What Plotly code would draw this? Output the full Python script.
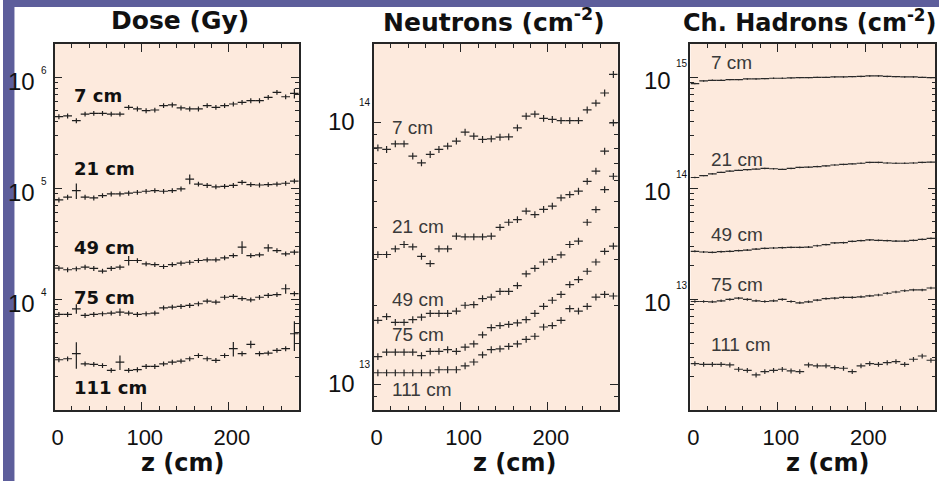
import math
import plotly.graph_objects as go

# ---------------- data ----------------
z_cm = [5, 15, 25, 35, 45, 55, 65, 75, 85, 95, 105, 115, 125, 135,
        145, 155, 165, 175, 185, 195, 205, 215, 225, 235, 245, 255, 265, 275]
bin_half = 5

radii = ["7 cm", "21 cm", "49 cm", "75 cm", "111 cm"]

dose_7 = [4.42e5, 4.49e5, 4.07e5, 4.67e5, 4.74e5, 4.74e5, 4.67e5, 4.67e5, 5.37e5, 5.19e5,
          5.01e5, 5.08e5, 5.56e5, 5.64e5, 5.30e5, 5.19e5, 5.19e5, 5.56e5, 5.37e5, 5.56e5,
          5.75e5, 5.96e5, 6.16e5, 6.16e5, 6.60e5, 7.33e5, 6.69e5, 7.17e5]
dose_21 = [7.85e4, 8.30e4, 9.53e4, 8.30e4, 8.18e4, 8.59e4, 8.89e4, 8.89e4, 9.02e4, 9.20e4,
           9.40e4, 9.53e4, 9.40e4, 9.53e4, 9.86e4, 1.21e5, 1.09e5, 1.06e5, 1.03e5, 1.04e5,
           1.06e5, 1.13e5, 1.08e5, 1.07e5, 1.08e5, 1.09e5, 1.11e5, 1.16e5]
dose_49 = [1.90e4, 1.84e4, 1.88e4, 1.94e4, 1.89e4, 1.79e4, 1.89e4, 1.94e4, 2.23e4, 2.23e4,
           2.08e4, 2.05e4, 1.97e4, 2.05e4, 2.11e4, 2.15e4, 2.23e4, 2.26e4, 2.26e4, 2.36e4,
           2.47e4, 2.94e4, 2.47e4, 2.51e4, 2.90e4, 2.74e4, 2.56e4, 2.65e4]
dose_75 = [7.28e3, 7.28e3, 8.18e3, 7.13e3, 7.28e3, 7.38e3, 7.48e3, 7.64e3, 7.48e3, 7.28e3,
           7.38e3, 7.48e3, 8.35e3, 8.47e3, 8.59e3, 8.77e3, 9.08e3, 9.59e3, 9.40e3, 1.04e4,
           1.06e4, 1.01e4, 9.86e3, 1.04e4, 1.08e4, 1.10e4, 1.24e4, 1.12e4]
dose_111 = [2.84e3, 2.90e3, 3.22e3, 2.61e3, 2.58e3, 2.52e3, 2.28e3, 2.70e3, 2.28e3, 2.31e3,
            2.47e3, 2.47e3, 2.61e3, 2.70e3, 2.76e3, 2.90e3, 3.10e3, 2.90e3, 2.80e3, 3.10e3,
            3.57e3, 3.22e3, 3.91e3, 3.22e3, 3.26e3, 3.45e3, 3.57e3, 4.87e3]

# relative errors (%) of the dose points
dose_err_7 = [5] * 27 + [10]
dose_err_21 = [5, 5, 16] + [5] * 12 + [10] + [5] * 12
dose_err_49 = [5] * 8 + [10] + [5] * 12 + [13, 5, 5, 8, 5, 5, 5]
dose_err_75 = [5, 5, 10, 5, 5, 5, 5, 8] + [5] * 18 + [10, 5]
dose_err_111 = [5, 5, 27, 5, 5, 5, 5, 15] + [5] * 12 + [15, 5, 8, 5, 5, 5, 5, 30]

neut_7 = [8.02e13, 7.91e13, 8.31e13, 8.31e13, 7.46e13, 7.03e13, 7.57e13, 7.91e13, 8.15e13, 8.51e13,
          9.21e13, 8.89e13, 8.64e13, 8.69e13, 8.81e13, 8.84e13, 9.57e13, 1.06e14, 1.08e14, 1.04e14,
          1.03e14, 1.02e14, 1.02e14, 1.02e14, 1.12e14, 1.19e14, 1.30e14, 1.53e14]
neut_21 = [3.14e13, 3.14e13, 3.30e13, 3.43e13, 3.36e13, 3.09e13, 2.90e13, 3.30e13, 3.30e13, 3.69e13,
           3.67e13, 3.67e13, 3.67e13, 3.69e13, 3.99e13, 4.17e13, 4.27e13, 4.60e13, 4.46e13, 4.67e13,
           4.81e13, 5.17e13, 5.32e13, 5.48e13, 5.98e13, 6.54e13, 7.79e13, 1.00e14]
neut_49 = [1.76e13, 1.82e13, 1.73e13, 1.73e13, 1.77e13, 1.81e13, 1.87e13, 1.87e13, 1.87e13, 1.91e13,
           2.01e13, 2.02e13, 2.13e13, 2.16e13, 2.27e13, 2.27e13, 2.39e13, 2.65e13, 2.78e13, 2.94e13,
           3.01e13, 3.13e13, 3.43e13, 3.53e13, 4.17e13, 4.66e13, 5.56e13, 6.25e13]
neut_75 = [1.28e13, 1.33e13, 1.33e13, 1.33e13, 1.33e13, 1.29e13, 1.34e13, 1.34e13, 1.36e13, 1.34e13,
           1.39e13, 1.43e13, 1.55e13, 1.65e13, 1.68e13, 1.70e13, 1.72e13, 1.77e13, 1.87e13, 1.99e13,
           2.10e13, 2.21e13, 2.41e13, 2.52e13, 2.71e13, 2.94e13, 3.23e13, 3.38e13]
neut_111 = [1.11e13, 1.11e13, 1.11e13, 1.11e13, 1.11e13, 1.11e13, 1.11e13, 1.14e13, 1.14e13, 1.14e13,
            1.18e13, 1.22e13, 1.30e13, 1.36e13, 1.37e13, 1.40e13, 1.43e13, 1.49e13, 1.53e13, 1.66e13,
            1.68e13, 1.76e13, 1.95e13, 1.91e13, 1.99e13, 2.16e13, 2.21e13, 2.18e13]

had_7 = [8.79e14, 9.29e14, 9.41e14, 9.41e14, 9.54e14, 9.54e14, 9.68e14, 9.68e14, 9.75e14, 9.82e14,
         9.82e14, 9.88e14, 9.95e14, 9.95e14, 1.00e15, 1.00e15, 1.01e15, 1.01e15, 1.016e15, 1.02e15,
         1.03e15, 1.03e15, 1.02e15, 1.016e15, 1.01e15, 1.01e15, 1.00e15, 9.95e14]
had_21 = [1.25e14, 1.30e14, 1.35e14, 1.39e14, 1.43e14, 1.45e14, 1.47e14, 1.49e14, 1.51e14, 1.50e14,
          1.48e14, 1.51e14, 1.54e14, 1.55e14, 1.57e14, 1.59e14, 1.62e14, 1.64e14, 1.66e14, 1.68e14,
          1.71e14, 1.71e14, 1.69e14, 1.68e14, 1.68e14, 1.69e14, 1.71e14, 1.72e14]
had_49 = [2.70e13, 2.66e13, 2.64e13, 2.68e13, 2.70e13, 2.74e13, 2.77e13, 2.83e13, 2.87e13, 2.89e13,
          2.91e13, 2.93e13, 2.93e13, 2.95e13, 3.03e13, 3.10e13, 3.21e13, 3.23e13, 3.32e13, 3.37e13,
          3.42e13, 3.39e13, 3.37e13, 3.34e13, 3.34e13, 3.39e13, 3.46e13, 3.53e13]
had_75 = [9.52e12, 9.52e12, 9.46e12, 9.66e12, 9.94e12, 1.02e13, 9.94e12, 9.66e12, 9.52e12, 9.66e12,
          9.94e12, 9.52e12, 9.27e12, 9.46e12, 9.80e12, 1.01e13, 1.02e13, 1.035e13, 1.035e13, 1.05e13,
          1.07e13, 1.09e13, 1.13e13, 1.16e13, 1.19e13, 1.21e13, 1.21e13, 1.26e13]
had_111 = [2.62e12, 2.58e12, 2.58e12, 2.58e12, 2.55e12, 2.33e12, 2.28e12, 2.07e12, 2.22e12, 2.28e12,
           2.33e12, 2.25e12, 2.22e12, 2.55e12, 2.50e12, 2.50e12, 2.41e12, 2.38e12, 2.22e12, 2.50e12,
           2.62e12, 2.58e12, 2.67e12, 2.73e12, 2.58e12, 2.87e12, 3.07e12, 2.81e12]

panel_titles = ["Dose (Gy)", "Neutrons (cm<sup>-2</sup>)", "Ch. Hadrons (cm<sup>-2</sup>)"]
x_title = "z (cm)"
x_ticks = [0, 100, 200]
y_decades = [[6, 5, 4], [14, 13], [15, 14, 13]]

# ---------------- layout geometry ----------------
W, H = 939, 481
PX = [(51.7, 296.7), (371.7, 616.7), (689.7, 935.3)]
TOP, BOT = 44, 410
y_ranges = [[3.0, math.log10(2e6)], [math.log10(8e12), math.log10(2e14)], [12.0, math.log10(2e15)]]

FRAME = "#262626"
PLOT_BG = "#fdeadd"
SLIDE = "#5d5e9b"
NUM_FONT = "Liberation Sans"
BOLD_FONT = "DejaVu Sans"

fig = go.Figure()


def add_series(vals, errs_pct, idx, color):
    xa = "x" if idx == 0 else f"x{idx + 1}"
    ya = "y" if idx == 0 else f"y{idx + 1}"
    fig.add_trace(go.Scatter(
        x=z_cm, y=vals, mode="markers", xaxis=xa, yaxis=ya,
        marker=dict(size=2, color=color, opacity=0),
        error_x=dict(type="constant", value=bin_half, width=0, thickness=1.2, color=color),
        error_y=dict(type="data", array=[v * p / 100 for v, p in zip(vals, errs_pct)],
                     width=0, thickness=1.2, color=color),
        showlegend=False, hoverinfo="skip"))


for vals, err in zip([dose_7, dose_21, dose_49, dose_75, dose_111],
                     [dose_err_7, dose_err_21, dose_err_49, dose_err_75, dose_err_111]):
    add_series(vals, err, 0, "#1e1e1e")
for vals in [neut_7, neut_21, neut_49, neut_75, neut_111]:
    add_series(vals, [3] * len(vals), 1, "#262626")
for vals, p in zip([had_7, had_21, had_49, had_75, had_111], [1.5, 1.5, 2, 2.5, 5]):
    add_series(vals, [p] * len(vals), 2, "#2a2a2a")

axis_common = dict(showline=True, linecolor=FRAME, linewidth=1.5, mirror="allticks",
                   ticks="inside", tickcolor=FRAME, tickwidth=1, showgrid=False, zeroline=False)

layout = dict(width=W, height=H, margin=dict(l=0, r=0, t=0, b=0),
              paper_bgcolor="white", plot_bgcolor=PLOT_BG, showlegend=False)

for i in range(3):
    xk = "xaxis" if i == 0 else f"xaxis{i + 1}"
    yk = "yaxis" if i == 0 else f"yaxis{i + 1}"
    ya = "y" if i == 0 else f"y{i + 1}"
    xa = "x" if i == 0 else f"x{i + 1}"
    layout[xk] = dict(axis_common, domain=[PX[i][0] / W, PX[i][1] / W], anchor=ya,
                      range=[0, 280], tickvals=x_ticks, ticklen=8,
                      tickfont=dict(family=NUM_FONT, size=22, color="#111"),
                      ticklabelstandoff=7, ticklabelshift=3,
                      minor=dict(ticks="inside", ticklen=4, tickcolor=FRAME, dtick=20, showgrid=False))
    layout[yk] = dict(axis_common, domain=[1 - BOT / H, 1 - TOP / H], anchor=xa,
                      type="log", range=y_ranges[i], dtick=1, ticklen=8, showticklabels=False,
                      minor=dict(ticks="inside", ticklen=4, tickcolor=FRAME, showgrid=False))

fig.update_layout(**layout)

# slide background strips
fig.add_shape(type="rect", xref="paper", yref="paper", x0=0, x1=11.5 / W, y0=0, y1=1,
              fillcolor=SLIDE, line_width=0, layer="below")
fig.add_shape(type="rect", xref="paper", yref="paper", x0=0, x1=1, y0=1 - 7 / H, y1=1,
              fillcolor=SLIDE, line_width=0, layer="below")

# titles
title_cx = [178, 493, 810]
title_size = [25, 25, 24]
for i in range(3):
    fig.add_annotation(text=panel_titles[i], xref="paper", yref="paper",
                       x=title_cx[i] / W, y=1 - 21 / H, showarrow=False,
                       xanchor="center", yanchor="middle",
                       font=dict(family=BOLD_FONT, size=title_size[i], color="#111", weight="bold"))

# x-axis titles
xt_cx = [181, 514, 828]
for i in range(3):
    fig.add_annotation(text=x_title, xref="paper", yref="paper", x=xt_cx[i] / W, y=1 - 463 / H,
                       showarrow=False, xanchor="center", yanchor="middle",
                       font=dict(family=BOLD_FONT, size=24, color="#111", weight="bold"))

# y tick labels 10^n
ten_right = [34, 355, 672]
ten_shift = [-4, 1, -3]
exp_left = [36, 355, 673]
exp_shift = [7, 20, 14]
for i in range(3):
    ya = "y" if i == 0 else f"y{i + 1}"
    for d in y_decades[i]:
        fig.add_annotation(text="10", xref="paper", yref=ya, x=ten_right[i] / W, y=d,
                           yshift=ten_shift[i], showarrow=False, xanchor="right", yanchor="middle",
                           font=dict(family=NUM_FONT, size=24, color="#111"))
        fig.add_annotation(text=str(d), xref="paper", yref=ya, x=exp_left[i] / W, y=d,
                           yshift=exp_shift[i], showarrow=False, xanchor="left", yanchor="middle",
                           font=dict(family=NUM_FONT, size=10, color="#111"))

# series labels
label_x = [20, 19, 21]
label_y = [[5.835, 5.175, 4.468, 4.013, 3.207],
           [13.981, 13.605, 13.325, 13.191, 12.981],
           [15.130, 14.257, 13.581, 13.129, 12.587]]
for i in range(3):
    xa = "x" if i == 0 else f"x{i + 1}"
    ya = "y" if i == 0 else f"y{i + 1}"
    for lab, ly in zip(radii, label_y[i]):
        if i == 0:
            f = dict(family=BOLD_FONT, size=18, color="#111", weight="bold")
        else:
            f = dict(family=NUM_FONT, size=19, color="#3a3a3a")
        fig.add_annotation(text=lab, xref=xa, yref=ya, x=label_x[i], y=ly, showarrow=False,
                           xanchor="left", yanchor="middle", font=f)

fig.write_html("out.html", config={"displayModeBar": False},
               post_script="document.body.style.margin='0px';document.body.style.overflow='hidden';")
